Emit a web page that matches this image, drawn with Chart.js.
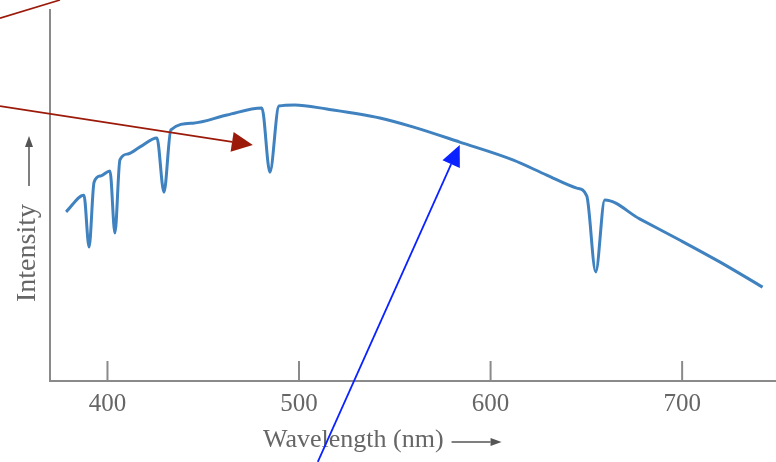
<!DOCTYPE html>
<html>
<head>
    <title>Absorption Spectrum</title>
    <script src="https://cdn.jsdelivr.net/npm/chart.js"></script>
    <style>
        body {
            margin: 0;
            background: #fff;
        }
    </style>
</head>
<body>
    <canvas id="spectrumChart" width="776" height="462"></canvas>

    <script>
        // Spectrum (wavelength in nm, intensity in arbitrary units)
        var wavelengths = [378.4, 387.7, 390.4, 393.0, 396.6, 401.3, 403.9, 406.5, 410.7, 417.0,
                           425.8, 429.5, 433.1, 444.6, 462.4, 480.6, 484.8, 489.5, 497.8, 514.5,
                           542.2, 559.4, 583.9, 611.6, 629.3, 645.0, 650.2, 654.9, 659.6, 677.8,
                           698.7, 719.6, 742.0];
        var intensity = [45.6, 50.1, 36.1, 53.6, 55.3, 56.6, 39.9, 59.6, 61.2, 63.1,
                         65.5, 50.9, 67.7, 69.5, 71.7, 73.6, 56.3, 74.1, 74.4, 73.3,
                         70.9, 68.5, 64.4, 59.6, 55.5, 52.0, 49.9, 29.4, 48.8, 43.7,
                         38.0, 32.1, 25.3];
        var xTicks = [400, 500, 600, 700];

        // Annotation arrows, in data coordinates
        var redArrow = { from: [343.9, 74.1], to: [475.9, 63.6] };
        var redLine = { from: [343.9, 97.8], to: [375.2, 102.7] };
        var blueArrow = { from: [509.8, -21.8], to: [583.9, 63.6] };

        var fontFamily = "'Liberation Serif', 'DejaVu Serif', serif";

        function drawArrow(ctx, x1, y1, x2, y2, color, width, headLen, headWidth) {
            var ang = Math.atan2(y2 - y1, x2 - x1);
            var bx = x2 - headLen * Math.cos(ang);
            var by = y2 - headLen * Math.sin(ang);
            ctx.save();
            ctx.strokeStyle = color;
            ctx.fillStyle = color;
            ctx.lineWidth = width;
            ctx.beginPath();
            ctx.moveTo(x1, y1);
            ctx.lineTo(bx, by);
            ctx.stroke();
            if (headLen > 0) {
                ctx.beginPath();
                ctx.moveTo(x2, y2);
                ctx.lineTo(bx + headWidth / 2 * Math.sin(ang), by - headWidth / 2 * Math.cos(ang));
                ctx.lineTo(bx - headWidth / 2 * Math.sin(ang), by + headWidth / 2 * Math.cos(ang));
                ctx.closePath();
                ctx.fill();
            }
            ctx.restore();
        }

        var extras = {
            id: 'extras',
            afterDraw: function(chart) {
                var ctx = chart.ctx;
                var area = chart.chartArea;
                var xs = chart.scales.x;
                var ys = chart.scales.y;

                // tick marks pointing into the plot
                ctx.save();
                ctx.strokeStyle = '#8a8a8a';
                ctx.lineWidth = 2;
                xTicks.forEach(function(v) {
                    var px = xs.getPixelForValue(v);
                    ctx.beginPath();
                    ctx.moveTo(px, area.bottom);
                    ctx.lineTo(px, area.bottom - 20);
                    ctx.stroke();
                });
                ctx.restore();

                // axis titles with their arrows
                ctx.save();
                ctx.fillStyle = '#666';
                ctx.textBaseline = 'middle';
                ctx.textAlign = 'left';
                ctx.font = '26px ' + fontFamily;
                var t = 'Wavelength (nm)';
                var tx = 263, ty = 440;
                ctx.fillText(t, tx, ty);
                var tw = ctx.measureText(t).width;
                drawArrow(ctx, tx + tw + 8, ty + 2, tx + tw + 58, ty + 2, '#555', 1.5, 11, 8);

                ctx.font = '28px ' + fontFamily;
                ctx.translate(28, 302);
                ctx.rotate(-Math.PI / 2);
                var yt = 'Intensity';
                ctx.fillText(yt, 0, 0);
                var yw = ctx.measureText(yt).width;
                drawArrow(ctx, yw + 18, 1, yw + 68, 1, '#555', 1.5, 11, 8);
                ctx.restore();

                // annotation arrows
                function px(p) { return [xs.getPixelForValue(p[0]), ys.getPixelForValue(p[1])]; }
                var a = px(redArrow.from), b = px(redArrow.to);
                drawArrow(ctx, a[0], a[1], b[0], b[1], '#9c1a0a', 1.6, 21, 20);
                a = px(redLine.from); b = px(redLine.to);
                drawArrow(ctx, a[0], a[1], b[0], b[1], '#9c1a0a', 1.6, 0, 0);
                a = px(blueArrow.from); b = px(blueArrow.to);
                drawArrow(ctx, a[0], a[1], b[0], b[1], '#0a22ff', 1.8, 21, 19);
            }
        };

        var ctx = document.getElementById('spectrumChart').getContext('2d');
        var spectrumChart = new Chart(ctx, {
            type: 'line',
            data: {
                datasets: [{
                    data: wavelengths.map(function(w, i) { return { x: w, y: intensity[i] }; }),
                    borderColor: '#3f82bf',
                    borderWidth: 3,
                    pointRadius: 0,
                    cubicInterpolationMode: 'monotone',
                    fill: false
                }]
            },
            options: {
                responsive: false,
                animation: false,
                devicePixelRatio: 1,
                layout: {
                    padding: { left: 50, right: 0, top: 10, bottom: 35 }
                },
                plugins: {
                    legend: { display: false },
                    tooltip: { enabled: false }
                },
                scales: {
                    x: {
                        type: 'linear',
                        min: 370,
                        max: 749,
                        afterBuildTicks: function(scale) {
                            scale.ticks = xTicks.map(function(v) { return { value: v }; });
                        },
                        grid: { display: false, drawTicks: false },
                        border: { display: true, color: '#8a8a8a', width: 2 },
                        ticks: {
                            padding: 8,
                            color: '#666',
                            font: { family: fontFamily, size: 25 }
                        }
                    },
                    y: {
                        min: 0,
                        max: 100,
                        grid: { display: false, drawTicks: false },
                        border: { display: true, color: '#8a8a8a', width: 2 },
                        ticks: { display: false }
                    }
                }
            },
            plugins: [extras]
        });
    </script>
</body>
</html>
